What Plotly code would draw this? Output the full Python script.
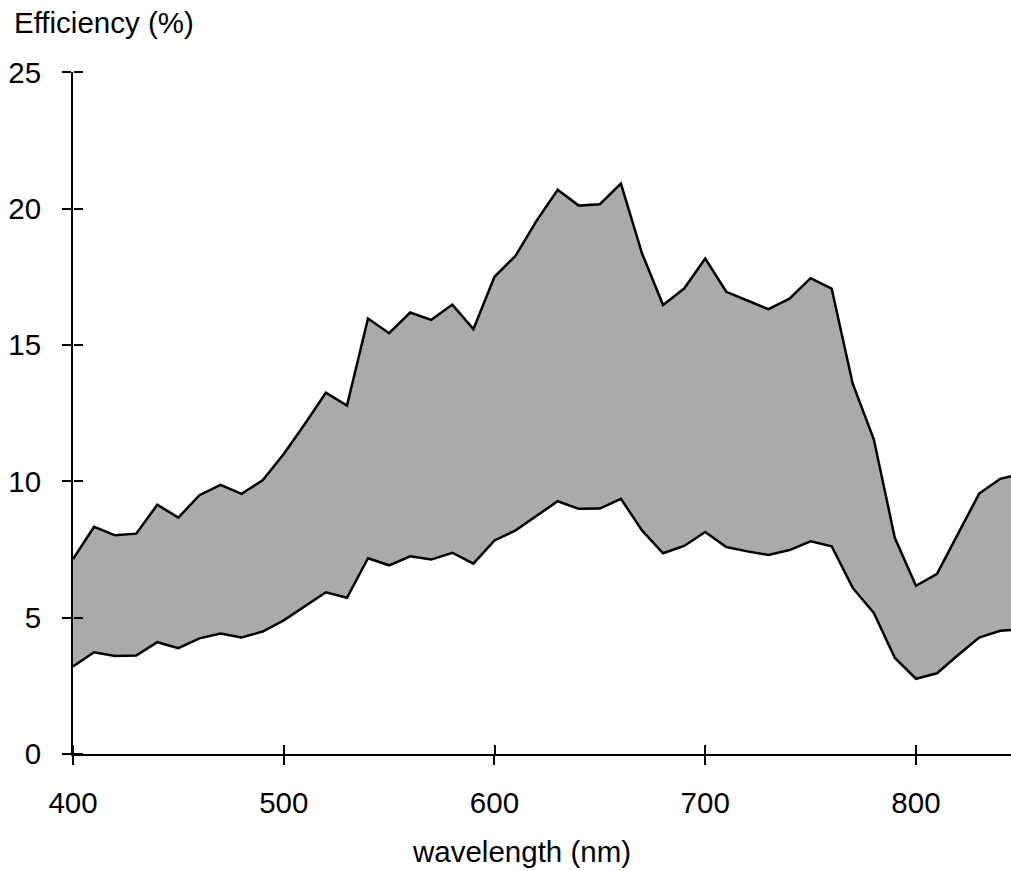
import plotly.graph_objects as go

wavelength = list(range(400, 860, 10))
upper = [7.15, 8.33, 8.02, 8.08, 9.14, 8.67, 9.49, 9.87, 9.54, 10.04,
         11.0, 12.1, 13.25, 12.78, 15.97, 15.43, 16.19, 15.92, 16.48, 15.58,
         17.50, 18.27, 19.56, 20.69, 20.11, 20.16, 20.92, 18.36, 16.47, 17.07,
         18.17, 16.95, 16.63, 16.31, 16.70, 17.45, 17.07, 13.58, 11.54, 7.92,
         6.17, 6.61, 8.08, 9.55, 10.09, 10.28]
lower = [3.21, 3.73, 3.59, 3.61, 4.10, 3.88, 4.24, 4.42, 4.27, 4.49,
         4.90, 5.43, 5.93, 5.73, 7.18, 6.92, 7.25, 7.13, 7.38, 6.98,
         7.83, 8.20, 8.74, 9.27, 8.99, 9.00, 9.36, 8.20, 7.36, 7.63,
         8.14, 7.59, 7.43, 7.30, 7.48, 7.80, 7.62, 6.09, 5.17, 3.52,
         2.76, 2.96, 3.63, 4.27, 4.52, 4.58]
x_ticks = [400, 500, 600, 700, 800]
y_ticks = [0, 5, 10, 15, 20, 25]

FONT = "Liberation Sans, Arial, sans-serif"
FS = 29.5
X_RANGE = [400, 845.1]
Y_RANGE = [0, 25.01]
X_EPS = 0.01  # inner half of x tick marks drawn as minor ticks

fig = go.Figure()
fig.add_trace(go.Scatter(x=wavelength, y=lower, mode="lines",
                         line=dict(color="black", width=2.5),
                         hoverinfo="skip", showlegend=False))
fig.add_trace(go.Scatter(x=wavelength, y=upper, mode="lines",
                         line=dict(color="black", width=2.5),
                         fill="tonexty", fillcolor="#aaaaaa",
                         hoverinfo="skip", showlegend=False))
# invisible trace on a right-side y axis placed at the left edge: its "outside"
# ticks point into the plot, giving the inner half of the crossing y tick marks
fig.add_trace(go.Scatter(x=[wavelength[0]], y=[lower[0]], yaxis="y2",
                         mode="markers", marker=dict(opacity=0),
                         hoverinfo="skip", showlegend=False))

axis_common = dict(showgrid=False, zeroline=False, tickcolor="black",
                   tickwidth=2, ticklen=9, fixedrange=True,
                   ticks="outside", tickfont=dict(size=FS))

fig.update_layout(
    width=1011, height=871,
    margin=dict(l=73, r=0, t=72, b=117),
    paper_bgcolor="white", plot_bgcolor="white",
    font=dict(family=FONT, size=FS, color="black"),
    xaxis=dict(range=X_RANGE, tickvals=x_ticks, ticklabelstandoff=13,
               showline=True, linecolor="black", linewidth=2,
               minor=dict(tickmode="array", tickvals=[v + X_EPS for v in x_ticks],
                          ticks="inside", ticklen=9, tickwidth=2, tickcolor="black",
                          showgrid=False),
               **axis_common),
    yaxis=dict(range=Y_RANGE, tickvals=y_ticks, ticklabelstandoff=15,
               showline=True, linecolor="black", linewidth=2,
               **axis_common),
    yaxis2=dict(range=Y_RANGE, tickvals=y_ticks, overlaying="y", side="right",
                anchor="free", position=0, showticklabels=False, showline=False,
                **axis_common),
    annotations=[
        dict(text="Efficiency (%)", xref="paper", yref="paper",
             x=(12 - 73) / 938, y=(754 - 22) / 682, xanchor="left", yanchor="middle",
             showarrow=False, font=dict(size=FS)),
        dict(text="wavelength (nm)", xref="paper", yref="paper",
             x=(521 - 73) / 938, y=(754 - 851) / 682, xanchor="center", yanchor="middle",
             showarrow=False, font=dict(size=FS)),
    ],
)

fig.write_html("out.html")
